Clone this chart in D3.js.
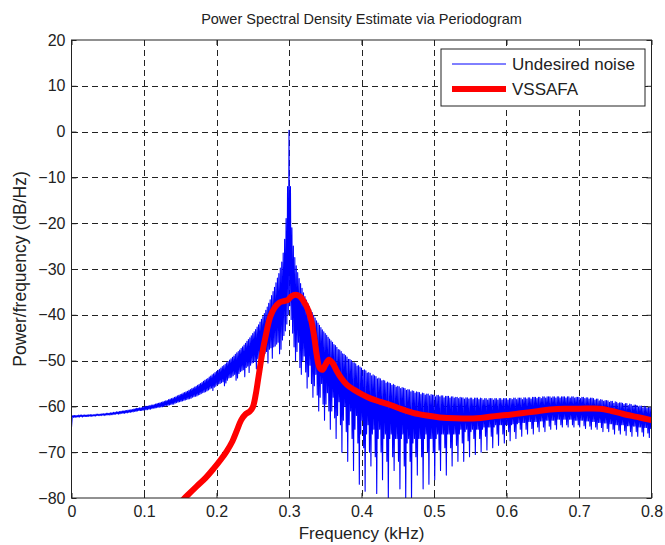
<!DOCTYPE html>
<html>
<head>
<meta charset="utf-8">
<script src="https://cdn.jsdelivr.net/npm/d3@7"></script>
<style>
  body { margin: 0; background: #fff; }
  svg { display: block; font-family: "Liberation Sans", Arial, sans-serif; }
</style>
</head>
<body>
<div id="chart"></div>
<script>
// periodogram of the undesired noise, one ripple every 0.002 kHz:
// top = crest of each ripple (dB), bottom = trough that follows it (dB)
const noiseStep = 0.002;
const noiseTop = [
  -64.6, -62.0, -62.0, -62.0, -62.0, -61.9, -61.9, -61.9, -61.9, -61.9,
  -61.9, -61.9, -61.8, -61.8, -61.8, -61.8, -61.8, -61.7, -61.7, -61.7,
  -61.7, -61.6, -61.6, -61.6, -61.5, -61.5, -61.5, -61.4, -61.4, -61.3,
  -61.3, -61.2, -61.2, -61.1, -61.1, -61.0, -61.0, -60.9, -60.9, -60.8,
  -60.8, -60.7, -60.7, -60.6, -60.5, -60.4, -60.4, -60.3, -60.3, -60.2,
  -60.1, -60.0, -60.0, -59.9, -59.8, -59.7, -59.7, -59.6, -59.5, -59.4,
  -59.3, -59.2, -59.1, -59.0, -58.9, -58.8, -58.7, -58.5, -58.4, -58.3,
  -58.2, -58.0, -57.9, -57.7, -57.6, -57.4, -57.3, -57.1, -57.0, -56.8,
  -56.7, -56.5, -56.3, -56.1, -56.0, -55.8, -55.6, -55.4, -55.2, -55.0,
  -54.8, -54.5, -54.3, -54.1, -53.9, -53.6, -53.4, -53.1, -52.9, -52.6,
  -52.4, -52.1, -51.9, -51.6, -51.3, -51.1, -50.8, -50.5, -50.2, -49.9,
  -49.6, -49.3, -49.0, -48.6, -48.3, -48.0, -47.7, -47.3, -47.0, -46.6,
  -46.2, -45.8, -45.4, -45.0, -44.6, -44.1, -43.7, -43.2, -42.7, -42.2,
  -41.6, -41.0, -40.4, -39.7, -39.0, -38.3, -37.5, -36.7, -35.8, -34.9,
  -34.0, -33.0, -32.0, -31.0, -29.8, -28.5, -26.5, -23.5, -19.0, -12.0,
    0.3, -12.0, -21.0, -25.0, -27.5, -29.3, -30.8, -32.1, -33.2, -34.2,
  -35.2, -36.0, -36.8, -37.5, -38.2, -38.9, -39.5, -40.1, -40.7, -41.3,
  -41.8, -42.3, -42.8, -43.3, -43.7, -44.1, -44.5, -44.9, -45.3, -45.7,
  -46.0, -46.5, -46.7, -47.1, -47.6, -47.7, -48.0, -48.5, -48.6, -48.9,
  -49.2, -49.7, -49.7, -50.0, -50.4, -50.5, -50.7, -51.2, -51.1, -51.4,
  -51.6, -52.1, -52.0, -52.2, -52.7, -52.6, -52.8, -53.3, -53.1, -53.3,
  -53.5, -54.0, -53.8, -54.0, -54.4, -54.3, -54.4, -54.9, -54.7, -54.9,
  -55.0, -55.4, -55.2, -55.4, -55.8, -55.6, -55.7, -56.1, -55.9, -56.0,
  -56.1, -56.5, -56.3, -56.4, -56.8, -56.6, -56.7, -57.1, -56.8, -56.9,
  -57.0, -57.4, -57.1, -57.2, -57.5, -57.3, -57.3, -57.7, -57.4, -57.5,
  -57.5, -57.9, -57.6, -57.6, -57.9, -57.7, -57.7, -58.1, -57.8, -57.8,
  -57.8, -58.2, -57.9, -57.9, -58.2, -58.0, -58.0, -58.3, -58.0, -58.1,
  -58.1, -58.4, -58.1, -58.1, -58.4, -58.2, -58.2, -58.5, -58.2, -58.2,
  -58.2, -58.5, -58.2, -58.3, -58.6, -58.3, -58.3, -58.6, -58.3, -58.3,
  -58.3, -58.6, -58.3, -58.3, -58.6, -58.3, -58.3, -58.6, -58.3, -58.3,
  -58.3, -58.6, -58.3, -58.3, -58.5, -58.2, -58.2, -58.5, -58.2, -58.2,
  -58.2, -58.5, -58.1, -58.1, -58.4, -58.1, -58.1, -58.4, -58.0, -58.0,
  -58.0, -58.3, -58.0, -58.0, -58.3, -57.9, -57.9, -58.2, -57.9, -57.9,
  -57.9, -58.2, -57.9, -57.9, -58.2, -57.9, -57.9, -58.2, -57.9, -57.9,
  -57.9, -58.2, -57.9, -57.9, -58.2, -57.9, -57.9, -58.2, -58.0, -58.0,
  -58.0, -58.3, -58.0, -58.0, -58.3, -58.1, -58.1, -58.4, -58.2, -58.2,
  -58.3, -58.6, -58.4, -58.4, -58.8, -58.5, -58.6, -58.9, -58.7, -58.7,
  -58.8, -59.1, -58.9, -58.9, -59.3, -59.0, -59.1, -59.4, -59.2, -59.2,
  -59.3, -59.6, -59.4, -59.4, -59.8, -59.5, -59.6, -59.9, -59.7, -59.7,
  -59.8, -60.1, -59.9, -59.9, -60.3, -60.0, -60.1, -60.4, -60.2, -60.2,
  -60.3
];
const noiseBottom = [
  -62.3, -62.4, -62.4, -62.3, -62.3, -62.3, -62.2, -62.3, -62.2, -62.2,
  -62.2, -62.2, -62.1, -62.2, -62.1, -62.1, -62.1, -62.0, -62.0, -62.0,
  -62.0, -61.9, -62.0, -61.9, -61.9, -61.8, -61.9, -61.8, -61.8, -61.7,
  -61.7, -61.6, -61.7, -61.6, -61.5, -61.5, -61.5, -61.4, -61.4, -61.3,
  -61.3, -61.2, -61.2, -61.1, -61.1, -61.0, -60.9, -60.9, -60.9, -60.8,
  -60.8, -60.7, -60.7, -60.6, -60.6, -60.5, -60.4, -60.4, -60.3, -60.2,
  -60.2, -60.1, -60.1, -60.0, -59.9, -59.8, -59.8, -59.7, -59.6, -59.5,
  -59.5, -59.3, -59.2, -59.1, -59.0, -58.9, -58.8, -58.7, -58.6, -58.5,
  -58.4, -58.3, -58.2, -58.0, -57.9, -57.8, -57.7, -57.5, -57.4, -57.2,
  -57.0, -56.9, -56.8, -56.6, -56.4, -56.2, -56.0, -56.5, -55.8, -55.6,
  -55.3, -55.1, -55.0, -54.8, -54.6, -55.5, -54.9, -54.3, -53.8, -53.7,
  -53.6, -53.3, -53.0, -54.3, -53.8, -52.8, -52.4, -52.2, -52.0, -53.5,
  -51.5, -51.2, -52.6, -51.0, -50.5, -50.4, -50.2, -51.8, -49.6, -49.3,
  -51.0, -49.0, -48.8, -48.4, -48.0, -50.5, -47.5, -47.2, -49.5, -47.0,
  -46.8, -46.4, -46.0, -48.5, -47.5, -45.5, -44.5, -43.5, -42.0, -40.0,
  -38.0, -41.0, -44.0, -47.0, -50.0, -48.0, -46.0, -51.5, -53.0, -50.0,
  -49.0, -52.5, -56.0, -53.5, -51.0, -55.0, -58.0, -55.5, -53.0, -57.5,
  -61.0, -58.0, -55.0, -59.5, -63.0, -59.5, -57.0, -61.0, -65.0, -61.0,
  -58.0, -62.5, -67.0, -62.0, -59.0, -64.0, -70.0, -63.0, -60.0, -65.5,
  -72.0, -64.0, -61.0, -67.0, -74.0, -65.0, -62.0, -68.0, -77.0, -66.0,
  -63.0, -69.0, -78.5, -66.0, -64.0, -70.0, -73.0, -66.0, -65.0, -71.0,
  -79.0, -67.0, -65.0, -70.0, -76.0, -67.0, -66.0, -72.0, -80.5, -67.0,
  -66.0, -71.0, -74.0, -67.0, -67.0, -72.0, -78.0, -67.0, -66.0, -73.0,
  -80.5, -68.0, -67.0, -72.0, -81.0, -68.0, -67.0, -71.0, -75.0, -67.0,
  -67.0, -71.0, -78.0, -67.0, -66.0, -70.0, -77.0, -67.0, -67.0, -70.0,
  -76.0, -67.0, -66.0, -69.5, -74.0, -66.0, -66.0, -69.0, -75.0, -66.0,
  -66.0, -69.0, -73.0, -66.0, -66.0, -68.5, -72.0, -66.0, -65.0, -68.0,
  -72.0, -65.5, -65.0, -67.5, -71.0, -65.5, -65.0, -67.0, -70.5, -65.0,
  -65.0, -67.0, -70.0, -65.0, -64.5, -66.5, -69.5, -64.5, -64.5, -66.5,
  -69.0, -64.5, -64.0, -66.0, -68.5, -64.0, -64.0, -66.0, -68.0, -64.0,
  -64.0, -65.5, -67.5, -64.0, -63.8, -65.5, -67.0, -63.8, -63.5, -65.0,
  -66.5, -63.5, -63.5, -65.0, -66.0, -63.3, -63.3, -64.8, -66.0, -63.3,
  -63.3, -64.5, -65.5, -63.2, -63.2, -64.5, -65.5, -63.0, -63.0, -64.3,
  -65.0, -63.0, -63.0, -64.0, -65.0, -62.8, -62.8, -64.0, -64.5, -62.8,
  -62.8, -64.0, -64.5, -62.8, -62.8, -64.0, -64.5, -63.0, -63.0, -64.0,
  -64.5, -63.0, -63.0, -64.2, -64.8, -63.2, -63.2, -64.3, -65.0, -63.3,
  -63.3, -64.5, -65.0, -63.5, -63.5, -64.6, -65.5, -63.6, -63.6, -64.8,
  -65.5, -63.8, -63.8, -65.0, -66.0, -64.0, -64.0, -65.2, -66.0, -64.0,
  -64.0, -65.3, -66.3, -64.2, -64.2, -65.5, -66.5, -64.3, -64.3, -65.5,
  -66.5, -64.5, -64.5, -65.6, -66.5, -64.6, -64.6, -65.8, -66.8, -64.8,
  -65.0
];

// VSSAFA output spectrum
const vssFreq = [
  0.150, 0.160, 0.173, 0.185, 0.196, 0.206, 0.214, 0.222, 0.228, 0.234,
  0.240, 0.246, 0.250, 0.254, 0.258, 0.263, 0.268, 0.274, 0.280, 0.287,
  0.293, 0.298, 0.303, 0.309, 0.315, 0.320, 0.326, 0.331, 0.335, 0.338,
  0.342, 0.346, 0.350, 0.355, 0.360, 0.365, 0.372, 0.380, 0.390, 0.400,
  0.413, 0.426, 0.440, 0.455, 0.471, 0.490, 0.508, 0.530, 0.559, 0.580,
  0.600, 0.620, 0.640, 0.660, 0.680, 0.700, 0.729, 0.745, 0.760, 0.780,
  0.800
];
const vssDb = [
  -81.0, -79.4, -77.4, -75.6, -73.6, -71.6, -69.8, -67.6, -65.3, -63.0,
  -61.7, -61.1, -60.2, -57.5, -53.5, -48.5, -44.5, -40.5, -38.5, -37.3,
  -37.0, -36.8, -36.0, -35.6, -36.0, -37.0, -38.8, -41.5, -45.0, -48.5,
  -51.5, -52.0, -51.0, -49.8, -50.5, -52.0, -53.8, -55.3, -56.4, -57.3,
  -58.3, -59.0, -59.7, -60.6, -61.4, -62.0, -62.4, -62.6, -62.6, -62.2,
  -61.9, -61.5, -61.1, -60.7, -60.5, -60.5, -60.5, -61.0, -61.6, -62.3,
  -63.0
];

const xTicks = [0, 0.1, 0.2, 0.3, 0.4, 0.5, 0.6, 0.7, 0.8];
const yTicks = [-80, -70, -60, -50, -40, -30, -20, -10, 0, 10, 20];
const seriesNames = ["Undesired noise", "VSSAFA"];

const width = 665;
const height = 545;
const margin = {top: 40, right: 13.5, bottom: 47, left: 71.5};

const svg = d3.select("#chart")
  .append("svg")
  .attr("width", width)
  .attr("height", height)
  .attr("viewBox", [0, 0, width, height]);

const x = d3.scaleLinear()
  .domain([0, 0.8])
  .range([margin.left, width - margin.right]);

const y = d3.scaleLinear()
  .domain([-80, 20])
  .range([height - margin.bottom, margin.top]);

svg.append("defs").append("clipPath")
  .attr("id", "plot-clip")
  .append("rect")
  .attr("x", x(0))
  .attr("y", y(20))
  .attr("width", x(0.8) - x(0))
  .attr("height", y(-80) - y(20));

// dashed grid
const grid = svg.append("g")
  .attr("stroke", "#222")
  .attr("stroke-width", 1)
  .attr("stroke-dasharray", "6,4")
  .attr("shape-rendering", "crispEdges");

grid.selectAll("line.gx")
  .data(xTicks.slice(1, -1))
  .join("line")
    .attr("class", "gx")
    .attr("x1", d => Math.round(x(d)) + 0.5)
    .attr("x2", d => Math.round(x(d)) + 0.5)
    .attr("y1", y(20))
    .attr("y2", y(-80));

grid.selectAll("line.gy")
  .data(yTicks.slice(1, -1))
  .join("line")
    .attr("class", "gy")
    .attr("x1", x(0))
    .attr("x2", x(0.8))
    .attr("y1", d => Math.round(y(d)) + 0.5)
    .attr("y2", d => Math.round(y(d)) + 0.5);

// series
const noisePoints = noiseTop.flatMap((v, i) => [
  [i * noiseStep, v],
  [i * noiseStep + noiseStep / 2, noiseBottom[i]]
]);

const plot = svg.append("g").attr("clip-path", "url(#plot-clip)");

plot.append("path")
  .datum(noisePoints)
  .attr("fill", "none")
  .attr("stroke", "#0000ff")
  .attr("stroke-width", 1.1)
  .attr("stroke-linejoin", "round")
  .attr("d", d3.line().x(d => x(d[0])).y(d => y(d[1])));

plot.append("path")
  .datum(vssFreq.map((f, i) => [f, vssDb[i]]))
  .attr("fill", "none")
  .attr("stroke", "#ff0000")
  .attr("stroke-width", 6)
  .attr("stroke-linejoin", "round")
  .attr("d", d3.line().curve(d3.curveCatmullRom).x(d => x(d[0])).y(d => y(d[1])));

// axes: ticks inside on all four sides, box around
const tickLen = 5;
svg.append("g")
  .attr("transform", `translate(0,${y(-80)})`)
  .call(d3.axisBottom(x).tickValues(xTicks).tickSizeInner(-tickLen).tickSizeOuter(0).tickPadding(8)
    .tickFormat(d => d === 0 ? "0" : d3.format(".1f")(d)));
svg.append("g")
  .attr("transform", `translate(0,${y(20)})`)
  .call(d3.axisTop(x).tickValues(xTicks).tickSizeInner(-tickLen).tickSizeOuter(0).tickFormat(""));
svg.append("g")
  .attr("transform", `translate(${x(0)},0)`)
  .call(d3.axisLeft(y).tickValues(yTicks).tickSizeInner(-tickLen).tickSizeOuter(0).tickPadding(6));
svg.append("g")
  .attr("transform", `translate(${x(0.8)},0)`)
  .call(d3.axisRight(y).tickValues(yTicks).tickSizeInner(-tickLen).tickSizeOuter(0).tickFormat(""));

svg.selectAll(".domain").remove();
svg.selectAll(".tick line").attr("stroke", "#222");
svg.selectAll(".tick text")
  .attr("font-family", "Liberation Sans, Arial, sans-serif")
  .attr("font-size", 16)
  .attr("fill", "#222");

svg.append("rect")
  .attr("x", x(0))
  .attr("y", y(20))
  .attr("width", x(0.8) - x(0))
  .attr("height", y(-80) - y(20))
  .attr("fill", "none")
  .attr("stroke", "#222")
  .attr("stroke-width", 1);

// legend
const legend = svg.append("g").attr("transform", "translate(441,49)");
legend.append("rect")
  .attr("width", 204)
  .attr("height", 57)
  .attr("fill", "#fff")
  .attr("stroke", "#222");

const legendRows = legend.selectAll("g.row")
  .data(seriesNames)
  .join("g")
    .attr("class", "row")
    .attr("transform", (d, i) => `translate(0,${15 + i * 25})`);

legendRows.append("line")
  .attr("x1", 11)
  .attr("x2", 65)
  .attr("stroke", (d, i) => i === 0 ? "#0000ff" : "#ff0000")
  .attr("stroke-width", (d, i) => i === 0 ? 1 : 6);

legendRows.append("text")
  .attr("x", 71)
  .attr("dy", "0.35em")
  .attr("font-size", 17)
  .attr("fill", "#222")
  .text(d => d);

// titles
svg.append("text")
  .attr("x", (x(0) + x(0.8)) / 2)
  .attr("y", 24)
  .attr("text-anchor", "middle")
  .attr("font-size", 14.5)
  .attr("fill", "#222")
  .text("Power Spectral Density Estimate via Periodogram");

svg.append("text")
  .attr("x", (x(0) + x(0.8)) / 2)
  .attr("y", 539)
  .attr("text-anchor", "middle")
  .attr("font-size", 17)
  .attr("fill", "#222")
  .text("Frequency (kHz)");

svg.append("text")
  .attr("transform", `translate(26,${(y(20) + y(-80)) / 2}) rotate(-90)`)
  .attr("text-anchor", "middle")
  .attr("font-size", 17.5)
  .attr("fill", "#222")
  .text("Power/frequency (dB/Hz)");
</script>
</body>
</html>
